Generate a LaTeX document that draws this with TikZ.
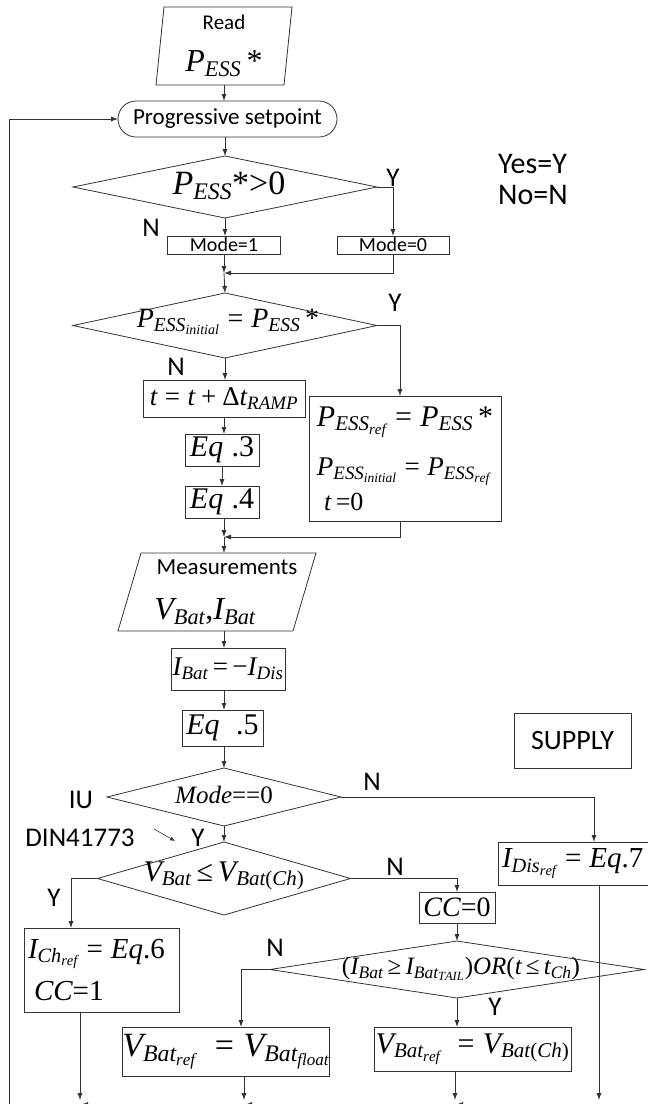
\documentclass[tikz,border=0pt]{standalone}
\usepackage{fix-cm}
\usepackage{amsmath}
\usepackage{fontspec}
\setmainfont{Carlito}
\setmathrm{Liberation Serif}
\newfontfamily\tnr{Liberation Serif}
\usetikzlibrary{shapes.geometric,arrows.meta}
\newcommand\mi[1]{\mathit{#1}}
\newcommand\up[1]{\text{\tnr #1}}
\newcommand\eqs{\mathrel{\up{=}}}
\tikzset{
  ln/.style={line width=0.8pt, draw=black!80},
  arr/.style={ln, -{Latex[length=7pt,width=5pt]}},
  box/.style={draw=black!80, line width=0.8pt, rectangle, inner sep=2pt, outer sep=0pt},
  dia/.style={draw=black!80, line width=0.8pt, diamond, inner sep=0pt, outer sep=0pt},
  fs/.style={font=\fontsize{#1}{#1}\selectfont},
  lbl/.style={font=\fontsize{27}{30}\selectfont, inner sep=0pt},
  para/.style={inner sep=0pt, outer sep=0pt, align=center},
}
\begin{document}
\begin{tikzpicture}[x=1pt,y=-1pt]
\useasboundingbox[fill=white] (0,0) rectangle (648,1104);

% ---- Read
\node[para, fs=21, minimum width=128pt, minimum height=78pt] (read) at (224,46)
  {Read\\[20pt]{\fontsize{32}{32}\selectfont$\mi{P}_{\mi{ESS}}\,\up{*}$}};
\draw[ln] ([xshift=4pt]read.north west) -- ([xshift=4pt]read.north east) -- ([xshift=-4pt]read.south east) -- ([xshift=-4pt]read.south west) -- cycle;

% ---- Progressive setpoint
\node[ln, draw, rounded corners=18pt, minimum width=219pt, minimum height=36pt, fs=23, outer sep=0pt] (prog) at (227.5,119) {Progressive setpoint};

% ---- decision 1
\node[dia, minimum width=304pt, minimum height=62pt] (d1) at (225,187) {};
\node[fs=34, inner sep=0pt] (d1t) at (229,186) {$\mi{P}_{\mi{ESS}}\up{*>0}$};

\node[box, fs=20, inner sep=0pt, minimum width=113pt, minimum height=18pt] (m1) at (224,245) {Mode=1};
\node[box, fs=20, inner sep=0pt, minimum width=112pt, minimum height=18pt] (m0) at (393,245) {Mode=0};
\coordinate (j1) at (224,273);

% ---- decision 2
\node[dia, minimum width=304pt, minimum height=65pt] (d2) at (225,325.5) {};
\node[fs=28, inner sep=0pt] (d2t) at (228,322) {$\mi{P}_{\mi{ESS}_{\mi{initial}}} \eqs \mi{P}_{\mi{ESS}}\,\up{*}$};

\node[box, fs=27, minimum width=162pt, minimum height=37pt] (tbox) at (224,398.5) {$\mi{t} \eqs \mi{t} \mathbin{\up{+}} \up{Δ}\mi{t}_{\mi{RAMP}}$};
\node[box, fs=30, inner sep=0pt, minimum width=74pt, minimum height=32pt] (eq3) at (222,450) {$\mi{Eq}\;\up{.3}$};
\node[box, fs=30, inner sep=0pt, minimum width=74pt, minimum height=32pt] (eq4) at (222,502) {$\mi{Eq}\;\up{.4}$};
\node[box, fs=27, minimum width=192pt, minimum height=125pt, align=left, inner xsep=3pt, inner ysep=0pt] (big) at (405,458.5)
  {{\fontsize{30}{30}\selectfont$\mi{P}_{\mi{ESS}_{\mi{ref}}} \eqs \mi{P}_{\mi{ESS}}\,\up{*}$}\\[20pt]
   $\mi{P}_{\mi{ESS}_{\mi{initial}}} \eqs \mi{P}_{\mi{ESS}_{\mi{ref}}}$\\[6pt]
   {\fontsize{26}{26}\selectfont$\;\mi{t}\up{\,=0}$}};
\coordinate (j2) at (224,537);

% ---- Measurements
\node[para, fs=23, minimum width=175pt, minimum height=78pt] (meas) at (217,592)
  {\hspace*{20pt}Measurements\\[22pt]{\fontsize{32}{32}\selectfont$\mi{V}_{\mi{Bat}}\up{,}\mi{I}_{\mi{Bat}}$\hspace*{24pt}}};
\draw[ln] ([xshift=11.5pt]meas.north west) -- ([xshift=11.5pt]meas.north east) -- ([xshift=-11.5pt]meas.south east) -- ([xshift=-11.5pt]meas.south west) -- cycle;

\node[box, fs=27, inner sep=0pt, minimum width=114pt, minimum height=42pt] (ibat) at (228,669) {$\mi{I}_{\mi{Bat}}\up{\,=\,−}\mi{I}_{\mi{Dis}}$};
\node[box, fs=30, inner sep=0pt, minimum width=81pt, minimum height=36pt] (eq5) at (222.5,728) {$\mi{Eq}\;\;\up{.5}$};

% ---- Mode==0
\node[dia, minimum width=234pt, minimum height=58pt] (d3) at (224,797) {};
\node[fs=25, inner sep=0pt] (d3t) at (224,795) {$\mi{Mode}\up{==0}$};

\node[box, fs=28, minimum width=117pt, minimum height=55pt] (supply) at (572.5,740.5) {SUPPLY};

\node[box, fs=29, anchor=west, text width=184pt, align=left, inner xsep=4pt, inner ysep=0pt, minimum height=43pt] (idis) at (498,863.5)
  {$\mi{I}_{\mi{Dis}_{\mi{ref}}}\eqs \mi{Eq}\up{.7}$};

% ---- V_Bat <= V_Bat(Ch)
\node[dia, minimum width=253pt, minimum height=73pt] (d4) at (224,878.5) {};
\node[fs=30, inner sep=0pt] (d4t) at (224,876) {$\mi{V}_{\mi{Bat}}\,\up{≤}\,\mi{V}_{\mi{Bat}\up{(}\mi{Ch}\up{)}}$};

\node[box, fs=28, inner sep=0pt, minimum width=76pt, minimum height=31pt] (cc0) at (457,907.5) {$\mi{CC}\up{=0}$};

\node[dia, minimum width=374pt, minimum height=57pt] (d5) at (457,969.5) {};
\node[fs=25, inner sep=0pt] (d5t) at (461,969) {$\up{(}\mi{I}_{\mi{Bat}}\up{\,≥\,}\mi{I}_{\mi{Bat}_{\mi{TAIL}}}\up{)}\mi{OR}\up{(}\mi{t}\up{\,≤\,}\mi{t}_{\mi{Ch}}\up{)}$};

\node[box, fs=29, minimum width=155pt, minimum height=84pt, text width=147pt, align=left, inner xsep=4pt, inner ysep=0pt] (ich) at (101.5,970)
  {$\mi{I}_{\mi{Ch}_{\mi{ref}}} \eqs \mi{Eq}\up{.6}$\\[12pt]\hspace*{6pt}$\mi{CC}\up{=1}$};

\node[box, fs=34, inner sep=0pt, minimum width=206pt, minimum height=49pt] (vfl) at (226,1051.5) {$\mi{V}_{\mi{Bat}_{\mi{ref}}} \;\eqs \mi{V}_{\mi{Bat}_{\mi{float}}}$};
\node[box, fs=30, inner sep=0pt, minimum width=197pt, minimum height=44pt] (vch) at (472.5,1049) {$\mi{V}_{\mi{Bat}_{\mi{ref}}} \;\eqs \mi{V}_{\mi{Bat}\up{(}\mi{Ch}\up{)}}$};

% ---- labels
\node[lbl] (y1) at (393,178) {Y};
\node[lbl] (n1) at (151,228) {N};
\node[fs=30, anchor=west, inner sep=0pt] (yes) at (498,164) {Yes=Y};
\node[fs=30, anchor=west, inner sep=0pt] (no) at (498,195) {No=N};
\node[lbl] (y2) at (395,303) {Y};
\node[lbl] (n2) at (176,367) {N};
\node[lbl] (n3) at (372,782) {N};
\node[lbl] (iu) at (81,800) {IU};
\node[lbl] (din) at (80,838) {DIN41773};
\node[lbl] (y3) at (198,838) {Y};
\node[lbl] (y4) at (54,898) {Y};
\node[lbl] (n4) at (395,867) {N};
\node[lbl] (n5) at (275,948) {N};
\node[lbl] (y5) at (495,1007) {Y};
\coordinate (da1) at (154,829);
\coordinate (da2) at (175,841);
\draw[ln, line width=0.6pt, -{Latex[length=5pt,width=4pt]}] (da1) -- (da2);

% ---- connectors
\draw[arr] (read.south) -- (read.south |- prog.north);
\draw[arr] (d1.north |- prog.south) -- (d1.north);
\draw[arr] (d1.south) -- (d1.south |- m1.north);
\draw[arr] (d1.east) -| (m0.north);
\draw[arr] (m1.south) -- (j1);
\draw[arr] (m0.south) |- (j1);
\draw[arr] (j1) -- (d2.north);
\draw[arr] (d2.east) -| ([xshift=-5pt]big.north);
\draw[arr] (d2.south) -- (d2.south |- tbox.north);
\draw[arr] (tbox.south) -- (tbox.south |- eq3.north);
\draw[arr] (eq3.south) -- (eq4.north);
\draw[arr] (j2 |- eq4.south) -- (j2);
\draw[arr] ([xshift=-5pt]big.south) |- (j2);
\draw[arr] (j2) -- (j2 |- meas.north);
\draw[arr] (j2 |- meas.south) -- (j2 |- ibat.north);
\draw[arr] (j2 |- ibat.south) -- (j2 |- eq5.north);
\draw[arr] (j2 |- eq5.south) -- (d3.north);
\draw[arr] (d3.east) -| (idis.north);
\draw[arr] (d3.south) -- (d4.north);
\draw[arr] (d4.west) -| ([xshift=-30.5pt]ich.north);
\draw[arr] (d4.east) -| (cc0.north);
\draw[arr] (cc0.south) -- (d5.north);
\draw[arr] (d5.west) -| ([xshift=15pt]vfl.north);
\draw[arr] (d5.south) -- (d5.south |- vch.north);

% ---- bottom and feedback
\coordinate (bot) at (0,1100);
\coordinate (fb) at (9,1110);
\draw[arr] ([xshift=-21.5pt]ich.south) -- ([xshift=-21.5pt]ich.south |- bot);
\draw[arr] ([xshift=18pt]vfl.south) -- ([xshift=18pt]vfl.south |- bot);
\draw[arr] ([xshift=-17.5pt]vch.south) -- ([xshift=-17.5pt]vch.south |- bot);
\draw[arr] ([xshift=5pt]idis.south) -- ([xshift=5pt]idis.south |- bot);
\coordinate (hb1) at (81,1104.5);
\coordinate (hb2) at (245,1104.5);
\coordinate (hb3) at (456,1104.5);
\coordinate (hb4) at (599,1104.5);
\draw[arr] (hb4) -- (hb3);
\draw[arr] (hb3) -- (hb2);
\draw[arr] (hb2) -- (hb1);
\draw[arr] (fb) |- (prog.west);
\end{tikzpicture}
\end{document}
